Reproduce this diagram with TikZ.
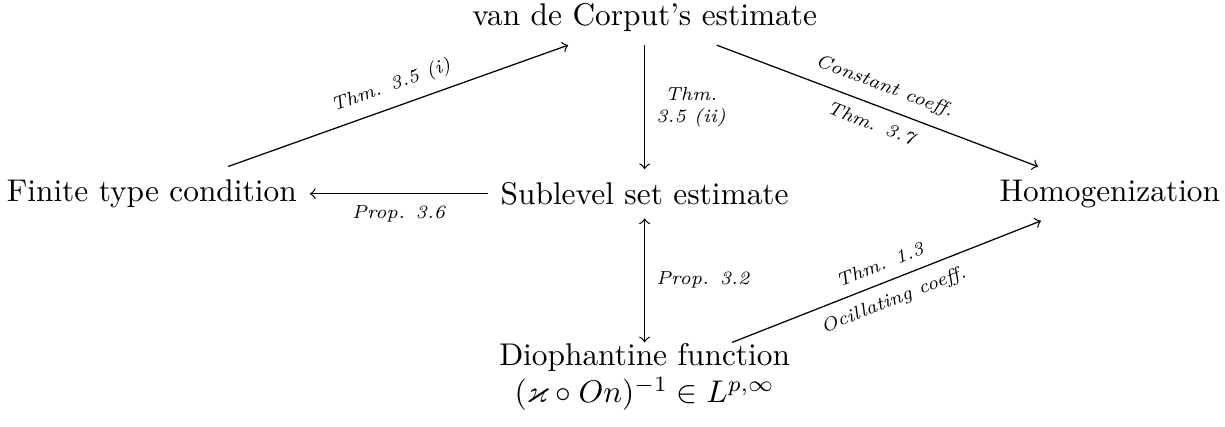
\documentclass[tikz,border=0pt]{standalone}
\usepackage{amsmath,amssymb}
\usepackage{tikz}

\tikzset{
    prova/.style={inner sep=4pt},
    etiq/.style={font=\fontsize{6}{7}\selectfont\itshape, inner sep=3.5pt}
}

\begin{document}
\begin{tikzpicture}
    % MARGES
    \useasboundingbox (0,0) rectangle (13.72,-4.78);

    % RESULTATS
    \node[prova] (vdc) at (7.22,-0.2) {van de Corput's estimate};
    \node[prova] (fin) at (1.70,-2.17) {Finite type condition};
    \node[prova] (sub) at (7.22,-2.17) {Sublevel set estimate};
    \node[prova] (hom) at (12.43,-2.17) {Homogenization};
    \node[prova, inner ysep=0pt, align=center] (dio) at (7.22,-4.22) {Diophantine function\\$(\varkappa\circ On)^{-1}\in L^{p,\infty}$};

    % IMPLICACIONS
    \draw[->] (fin) -- (vdc) node[midway, above, sloped, etiq] {Thm.  3.5 (i)};
    \draw[->] (vdc) -- (sub) node[midway, right, etiq, align=center] {Thm.\\3.5 (ii)};
    \draw[->] (sub) -- (fin) node[midway, below, etiq] {Prop.  3.6};
    \draw[->] (vdc) -- (hom) node[midway, above, sloped, etiq] {Constant coeff.}
                             node[midway, below, sloped, etiq] {Thm.  3.7};
    \draw[<->] (sub) -- (dio) node[midway, right, etiq] {Prop.  3.2};
    \draw[->] (dio) -- (hom) node[midway, above, sloped, etiq] {Thm.  1.3}
                             node[midway, below, sloped, etiq] {Ocillating coeff.};
\end{tikzpicture}
\end{document}
